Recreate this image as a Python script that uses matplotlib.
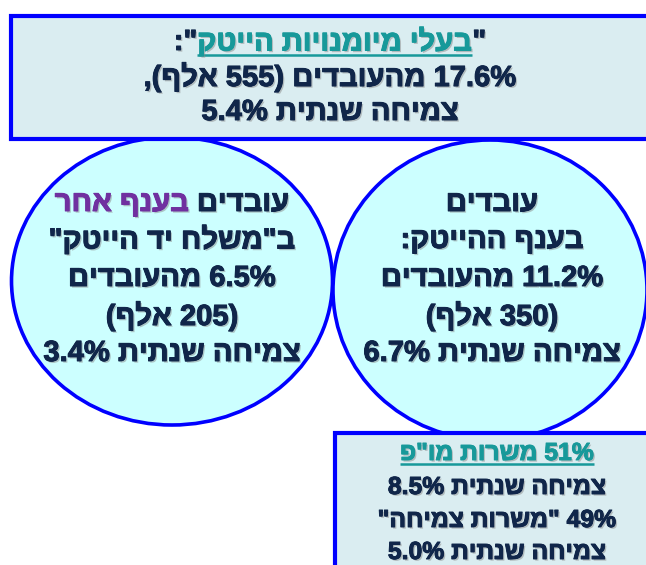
import re
import matplotlib
matplotlib.use("Agg")
import matplotlib.pyplot as plt
import matplotlib.patheffects as pe
from matplotlib.patches import Ellipse, Rectangle

# values
hitech_skills_share = 17.6      # % of employees
hitech_skills_thousands = 555
hitech_skills_growth = 5.4      # annual growth %

sector_share = 11.2
sector_thousands = 350
sector_growth = 6.7

other_share = 6.5
other_thousands = 205
other_growth = 3.4

rnd_jobs_share = 51
rnd_jobs_growth = 8.5
growth_jobs_share = 49
growth_jobs_growth = 5.0

NAVY = "#10264a"
TEAL = "#17999a"
PURPLE = "#7030a0"
BLUE = "#0000ff"
BOX_FILL = "#daedf1"
CIRCLE_FILL = "#ccffff"
FONT = ["Liberation Sans", "DejaVu Sans"]

MIRROR = {"(": ")", ")": "("}


def visual(s):
    # crude RTL reordering: keep numbers left-to-right, reverse the rest
    tokens = re.findall(r"\d+(?:\.\d+)?%?|.", s)
    return "".join(MIRROR.get(t, t) for t in reversed(tokens))


fig = plt.figure(figsize=(6.46, 5.65), dpi=100)
ax = fig.add_axes([0, 0, 1, 1])
ax.set_xlim(0, 646)
ax.set_ylim(565, 0)
ax.axis("off")
renderer = fig.canvas.get_renderer()


def effects(color):
    return [pe.withSimplePatchShadow(offset=(1.2, -1.2), shadow_rgbFace="#8a8a8a", alpha=0.5),
            pe.withStroke(linewidth=0.7, foreground=color)]


def measure(s, size):
    t = ax.text(0, 0, "|" + s + "|", fontsize=size, family=FONT, weight="bold")
    w = t.get_window_extent(renderer).width
    t.remove()
    t = ax.text(0, 0, "||", fontsize=size, family=FONT, weight="bold")
    w0 = t.get_window_extent(renderer).width
    t.remove()
    return w - w0


def line(xc, y, parts, size):
    # parts in logical (right-to-left) order: (text, color, underline)
    vis = [(visual(t), c, u) for t, c, u in reversed(parts)]
    widths = [measure(t, size) for t, _, _ in vis]
    x = xc - sum(widths) / 2
    for (t, c, u), w in zip(vis, widths):
        ax.text(x, y, t, fontsize=size, family=FONT, weight="bold", color=c,
                ha="left", va="center", path_effects=effects(c))
        if u:
            ax.plot([x, x + w], [y + size * 0.62, y + size * 0.62], color=c, lw=1.8,
                    solid_capstyle="butt")
        x += w


# circles first, boxes drawn over them
ax.add_patch(Ellipse((172, 281), 321, 288, facecolor=CIRCLE_FILL, edgecolor=BLUE, lw=2.6))
ax.add_patch(Ellipse((490, 290), 314, 300, facecolor=CIRCLE_FILL, edgecolor=BLUE, lw=2.6))
ax.add_patch(Rectangle((11, 16), 660, 123, facecolor=BOX_FILL, edgecolor=BLUE, lw=3.0))
ax.add_patch(Rectangle((335, 433), 330, 150, facecolor=BOX_FILL, edgecolor=BLUE, lw=3.0))

# top box
big = 21
line(330, 42, [('"', NAVY, False), ("בעלי מיומנויות הייטק", TEAL, True), ('":', NAVY, False)], big)
line(330, 77, [(f"{hitech_skills_share}% מהעובדים ({hitech_skills_thousands} אלף),", NAVY, False)], big)
line(330, 112, [(f"צמיחה שנתית {hitech_skills_growth}%", NAVY, False)], big)

# left circle
ys = [203, 240, 278, 316, 353]
line(172, ys[0], [("עובדים ", NAVY, False), ("בענף אחר", PURPLE, False)], big)
line(172, ys[1], [('ב"משלח יד הייטק"', NAVY, False)], big)
line(172, ys[2], [(f"{other_share}% מהעובדים", NAVY, False)], big)
line(172, ys[3], [(f"({other_thousands} אלף)", NAVY, False)], big)
line(172, ys[4], [(f"צמיחה שנתית {other_growth}%", NAVY, False)], big)

# right circle
line(492, ys[0], [("עובדים", NAVY, False)], big)
line(492, ys[1], [("בענף ההייטק:", NAVY, False)], big)
line(492, ys[2], [(f"{sector_share}% מהעובדים", NAVY, False)], big)
line(492, ys[3], [(f"({sector_thousands} אלף)", NAVY, False)], big)
line(492, ys[4], [(f"צמיחה שנתית {sector_growth}%", NAVY, False)], big)

# bottom box
small = 17.8
line(497, 453, [(f'{rnd_jobs_share}% משרות מו"פ', TEAL, True)], small)
line(497, 487, [(f"צמיחה שנתית {rnd_jobs_growth}%", NAVY, False)], small)
line(497, 520, [(f'{growth_jobs_share}% "משרות צמיחה"', NAVY, False)], small)
line(497, 552, [(f"צמיחה שנתית {growth_jobs_growth}%", NAVY, False)], small)

fig.savefig("out.png", dpi=100)
